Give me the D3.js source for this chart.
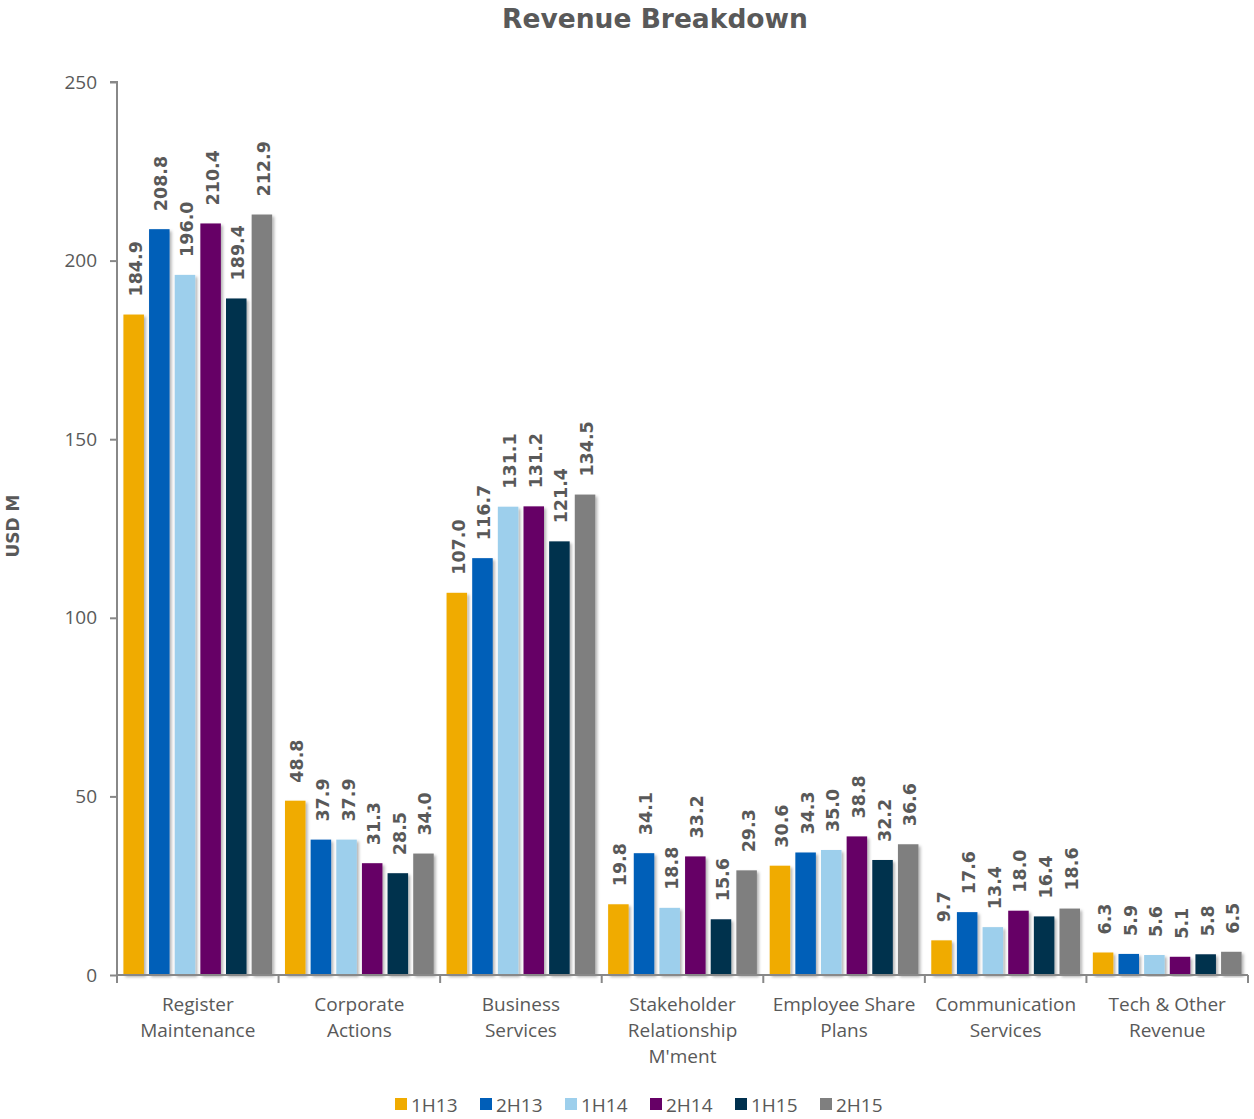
<!DOCTYPE html>
<html><head><meta charset="utf-8">
<script src="https://cdn.jsdelivr.net/npm/d3@7"></script>
<style>body{margin:0;background:#fff}svg{display:block}</style>
</head><body>
<svg id="chart" width="1254" height="1119"></svg>
<script>
const categories = [["Register","Maintenance"],["Corporate","Actions"],["Business","Services"],["Stakeholder","Relationship","M'ment"],["Employee Share","Plans"],["Communication","Services"],["Tech & Other","Revenue"]];
const seriesNames = ["1H13","2H13","1H14","2H14","1H15","2H15"];
const seriesColors = ["#F0AB00","#005EB8","#9DCFEC","#660066","#00304E","#7F7F7F"];
const s1H13 = [184.9,48.8,107.0,19.8,30.6,9.7,6.3];
const s2H13 = [208.8,37.9,116.7,34.1,34.3,17.6,5.9];
const s1H14 = [196.0,37.9,131.1,18.8,35.0,13.4,5.6];
const s2H14 = [210.4,31.3,131.2,33.2,38.8,18.0,5.1];
const s1H15 = [189.4,28.5,121.4,15.6,32.2,16.4,5.8];
const s2H15 = [212.9,34.0,134.5,29.3,36.6,18.6,6.5];
const yTicks = [0,50,100,150,200,250];
const seriesValues = [s1H13,s2H13,s1H14,s2H14,s1H15,s2H15];

const svg = d3.select("#chart");
const font = "'Open Sans', 'DejaVu Sans', sans-serif";
const bfont = "'DejaVu Sans', sans-serif";
const txt = "#595959";
const L = 117, R = 1248, T = 82, B = 975;

const defs = svg.append("defs");
const f = defs.append("filter").attr("id","sh").attr("x","-20%").attr("y","-5%").attr("width","160%").attr("height","115%");
f.append("feDropShadow").attr("dx",2).attr("dy",2).attr("stdDeviation",1.5).attr("flood-color","#000").attr("flood-opacity",0.3);

const x0 = d3.scaleBand().domain(d3.range(categories.length)).range([L,R]).padding(0);
const x1 = d3.scaleBand().domain(d3.range(seriesNames.length)).range([0,x0.bandwidth()]).paddingInner(0.2).paddingOuter(0.25);
const y = d3.scaleLinear().domain([0,250]).range([B,T]);

// title
svg.append("text").attr("x",655).attr("y",28).attr("text-anchor","middle")
  .attr("font-family",bfont).attr("font-weight","bold").attr("font-size",26.5).attr("fill",txt).text("Revenue Breakdown");
// y title
svg.append("text").attr("transform","translate(19,526) rotate(-90)").attr("text-anchor","middle")
  .attr("font-family",bfont).attr("font-weight","bold").attr("font-size",17).attr("fill",txt).text("USD M");

// bars
const groups = svg.append("g").selectAll("g").data(categories).join("g")
  .attr("transform",(d,i)=>`translate(${x0(i)},0)`);
groups.each(function(c,ci){
  const g = d3.select(this);
  seriesValues.forEach((vals,si)=>{
    const v = vals[ci];
    g.append("rect").attr("x",x1(si)).attr("y",y(v)).attr("width",x1.bandwidth()).attr("height",B-y(v))
      .attr("fill",seriesColors[si]).attr("filter","url(#sh)");
    g.append("text").attr("transform",`translate(${x1(si)+x1.bandwidth()/2+8},${y(v)-18}) rotate(-90)`)
      .attr("font-family",bfont).attr("font-weight","bold").attr("font-size",17.5).attr("fill",txt)
      .text(v.toFixed(1));
  });
});

// y axis
const ya = svg.append("g").attr("transform",`translate(${L},0)`)
  .call(d3.axisLeft(y).tickValues(yTicks).tickSize(7).tickPadding(13));
ya.select(".domain").attr("stroke","#888").attr("stroke-width",2).attr("d",`M-7,${T}H0V${B}`);
ya.selectAll(".tick line").attr("stroke","#888").attr("stroke-width",2);
ya.selectAll(".tick text").attr("font-family",font).attr("font-size",19).attr("fill",txt);

// x axis
const xa = svg.append("g");
xa.append("line").attr("x1",L).attr("x2",R).attr("y1",B).attr("y2",B).attr("stroke","#888").attr("stroke-width",2);
d3.range(categories.length+1).forEach(i=>{
  const xx = i<categories.length ? x0(i) : R;
  xa.append("line").attr("x1",xx).attr("x2",xx).attr("y1",B).attr("y2",B+8).attr("stroke","#888").attr("stroke-width",2);
});
categories.forEach((lines,i)=>{
  const t = xa.append("text").attr("text-anchor","middle").attr("font-family",font).attr("font-size",19).attr("fill",txt);
  lines.forEach((ln,k)=>{
    t.append("tspan").attr("x",x0(i)+x0.bandwidth()/2).attr("y",1011+k*26).text(ln);
  });
});

// legend
const leg = svg.append("g");
let lx = 395;
seriesNames.forEach((n,i)=>{
  leg.append("rect").attr("x",lx).attr("y",1098).attr("width",12).attr("height",12).attr("fill",seriesColors[i]);
  leg.append("text").attr("x",lx+16).attr("y",1112).attr("font-family",font).attr("font-size",19).attr("fill",txt).text(n);
  lx += 85;
});
</script>
</body></html>
